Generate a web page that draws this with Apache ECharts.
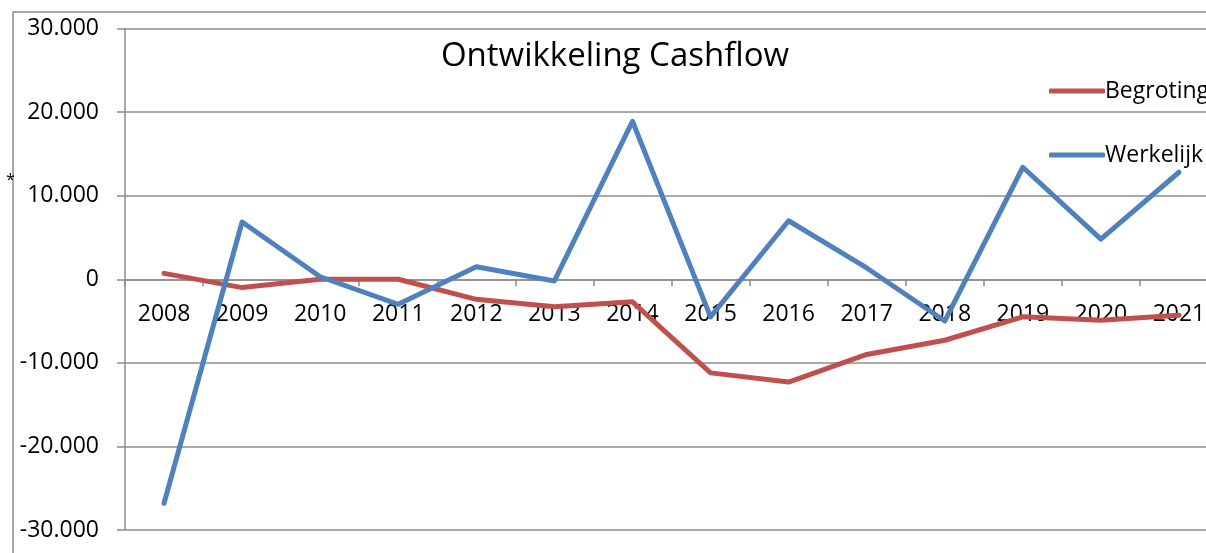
<!DOCTYPE html>
<html>
<head>
<meta charset="utf-8">
<script src="https://cdn.jsdelivr.net/npm/echarts@6/dist/echarts.min.js"></script>
<style>
html,body{margin:0;padding:0;background:#fff;overflow:hidden;width:1206px;height:553px;}
#c{width:1240px;height:553px;}
</style>
</head>
<body>
<div id="c"></div>
<script>
const categories = ['2008','2009','2010','2011','2012','2013','2014','2015','2016','2017','2018','2019','2020','2021'];
const begroting = [700, -1000, 0, 0, -2400, -3300, -2700, -11200, -12300, -9000, -7300, -4500, -4900, -4300];
const werkelijk = [-26800, 6850, 300, -3000, 1500, -200, 18900, -4500, 7000, 1350, -5000, 13400, 4800, 12800];
const seriesNames = ['Begroting', 'Werkelijk'];
const titleText = 'Ontwikkeling Cashflow';

const FONT = 'Open Sans';
const chart = echarts.init(document.getElementById('c'), null, {renderer: 'canvas'});
function fmt(v) {
  const s = Math.abs(v).toString().replace(/\B(?=(\d{3})+(?!\d))/g, '.');
  return (v < 0 ? '-' : '') + s;
}
const gridTop = 28.5, gridBottom = 23, H = 553;
const plotH = H - gridTop - gridBottom;
chart.setOption({
  animation: false,
  backgroundColor: '#ffffff',
  textStyle: {fontFamily: FONT},
  title: {
    text: titleText,
    left: 610, top: 35, textAlign: 'center',
    textStyle: {fontFamily: FONT, fontSize: 33, fontWeight: 'normal', color: '#000'}
  },
  legend: {
    orient: 'vertical',
    left: 1044, top: 74,
    itemWidth: 56, itemHeight: 5, itemGap: 40,
    icon: 'roundRect',
    textStyle: {fontFamily: FONT, fontSize: 23, color: '#000', padding: [0,0,0,-5], lineHeight: 24},
    data: seriesNames
  },
  graphic: [
    {type: 'rect', shape: {x: 13, y: 12, width: 1400, height: 700}, style: {fill: 'none', stroke: '#8c8c8c', lineWidth: 1.5}, z: -1},
    {type: 'text', left: 6, top: 172, style: {text: '*', fontFamily: FONT, fontSize: 16, fill: '#000'}}
  ],
  grid: {left: 125, right: 22, top: gridTop, bottom: gridBottom, outerBoundsMode: 'none', containLabel: false},
  xAxis: {
    type: 'category',
    data: categories,
    boundaryGap: true,
    position: 'bottom',
    offset: -plotH / 2,
    axisLine: {onZero: false, lineStyle: {color: '#8c8c8c', width: 1.5}},
    axisTick: {show: true, length: 7, inside: false, lineStyle: {color: '#8c8c8c', width: 1.5}},
    axisLabel: {fontFamily: FONT, fontSize: 23, color: '#000', margin: 24, interval: 0},
    splitLine: {show: false}
  },
  yAxis: {
    type: 'value',
    min: -30000, max: 30000, interval: 10000,
    axisLine: {show: true, lineStyle: {color: '#8c8c8c', width: 1.5}},
    axisTick: {show: true, length: 8, lineStyle: {color: '#8c8c8c', width: 1.5}},
    axisLabel: {fontFamily: FONT, fontSize: 23, color: '#000', margin: 26, formatter: fmt},
    splitLine: {show: true, lineStyle: {color: '#8c8c8c', width: 1.5}}
  },
  series: [
    {name: seriesNames[0], type: 'line', data: begroting, symbol: 'none', color: '#C0504D',
     lineStyle: {width: 5, color: '#C0504D', cap: 'round', join: 'round'}, z: 3},
    {name: seriesNames[1], type: 'line', data: werkelijk, symbol: 'none', color: '#4F81BD',
     lineStyle: {width: 5, color: '#4F81BD', cap: 'round', join: 'round'}, z: 4}
  ]
});
</script>
</body>
</html>
